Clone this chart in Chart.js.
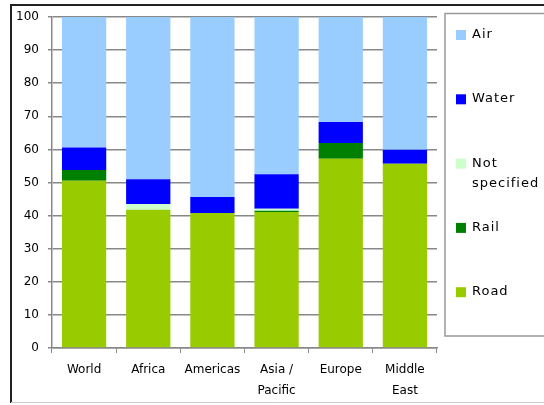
<!DOCTYPE html>
<html>
<head>
<meta charset="utf-8">
<script src="https://cdn.jsdelivr.net/npm/chart.js@4/dist/chart.umd.min.js"></script>
<style>
  html, body { margin: 0; padding: 0; background: #fff; }
  canvas { display: block; }
</style>
</head>
<body>
<canvas id="modal-chart" width="544" height="405"></canvas>
<script>
// --- Datos: reparto modal (%) por región ---
const categories = ['World', 'Africa', 'Americas', ['Asia /', 'Pacific'], 'Europe', ['Middle', 'East']];
const road = [50.5, 41.8, 40.8, 41.1, 57.2, 55.7];
const rail = [3.3, 0, 0, 0.4, 4.7, 0];
const notSpecified = [0, 1.7, 0, 0.6, 0, 0];
const water = [6.8, 7.5, 4.8, 10.4, 6.4, 4.2];
const air = [39.4, 49, 54.4, 47.5, 31.7, 40.1];
const yTicks = [0, 10, 20, 30, 40, 50, 60, 70, 80, 90, 100];

const FONT = '"DejaVu Sans", Verdana, sans-serif';
const GRID = '#888888';

// Marco exterior y leyenda dibujados a mano (orden inverso al apilado)
const frameAndLegend = {
    id: 'frameAndLegend',
    afterDraw(chart) {
        const ctx = chart.ctx;
        ctx.save();
        // marco exterior
        ctx.strokeStyle = '#222';
        ctx.lineWidth = 2;
        ctx.beginPath();
        ctx.moveTo(11, 403);
        ctx.lineTo(11, 5);
        ctx.lineTo(544, 5);
        ctx.stroke();
        ctx.strokeStyle = '#cccccc';
        ctx.lineWidth = 1;
        ctx.beginPath();
        ctx.moveTo(11, 402.5);
        ctx.lineTo(544, 402.5);
        ctx.stroke();

        // caja de la leyenda
        ctx.strokeStyle = '#999999';
        ctx.lineWidth = 1.5;
        ctx.beginPath();
        ctx.moveTo(548, 13.5);
        ctx.lineTo(445, 13.5);
        ctx.lineTo(445, 336);
        ctx.lineTo(548, 336);
        ctx.stroke();

        ctx.font = '13px ' + FONT;
        ctx.letterSpacing = '1px';
        ctx.fillStyle = '#000';
        ctx.textBaseline = 'alphabetic';
        const items = chart.data.datasets.slice().reverse();
        items.forEach((ds, i) => {
            const top = 30 + i * 64.3;
            ctx.fillStyle = ds.backgroundColor;
            ctx.fillRect(456, top, 10, 10);
            ctx.fillStyle = '#000';
            const lines = Array.isArray(ds.legendText) ? ds.legendText : [ds.label];
            lines.forEach((line, j) => {
                ctx.fillText(line, 472, top + 8 + j * 20);
            });
        });
        ctx.restore();
    }
};

const chart = new Chart(document.getElementById('modal-chart'), {
    type: 'bar',
    data: {
        labels: categories,
        datasets: [
            { label: 'Road', data: road, backgroundColor: '#99CC00' },
            { label: 'Rail', data: rail, backgroundColor: '#008000' },
            { label: 'Not specified', legendText: ['Not', 'specified'], data: notSpecified, backgroundColor: '#CCFFCC' },
            { label: 'Water', data: water, backgroundColor: '#0000FF' },
            { label: 'Air', data: air, backgroundColor: '#99CCFF' }
        ]
    },
    options: {
        responsive: false,
        animation: false,
        layout: { padding: { left: 0, right: 107, top: 17, bottom: 0 } },
        datasets: {
            bar: { barPercentage: 0.69, categoryPercentage: 1, borderWidth: 0 }
        },
        plugins: {
            legend: { display: false },
            tooltip: { enabled: false }
        },
        scales: {
            x: {
                stacked: true,
                afterFit: (scale) => { scale.height = 57; },
                grid: {
                    drawOnChartArea: false,
                    drawTicks: true,
                    tickLength: 5,
                    offset: true,
                    color: GRID
                },
                border: { display: true, color: GRID, width: 1.5 },
                ticks: {
                    color: '#000',
                    padding: 6,
                    maxRotation: 0,
                    font: { family: FONT, size: 12, lineHeight: 1.75 }
                }
            },
            y: {
                stacked: true,
                min: 0,
                max: 100,
                afterFit: (scale) => { scale.width = 52; },
                afterBuildTicks: (scale) => { scale.ticks = yTicks.map(v => ({ value: v })); },
                grid: {
                    color: GRID,
                    lineWidth: 1.5,
                    tickLength: 4
                },
                border: { display: true, color: GRID, width: 1.5 },
                ticks: {
                    color: '#000',
                    padding: 9,
                    font: { family: FONT, size: 12 }
                }
            }
        }
    },
    plugins: [frameAndLegend]
});
</script>
</body>
</html>
